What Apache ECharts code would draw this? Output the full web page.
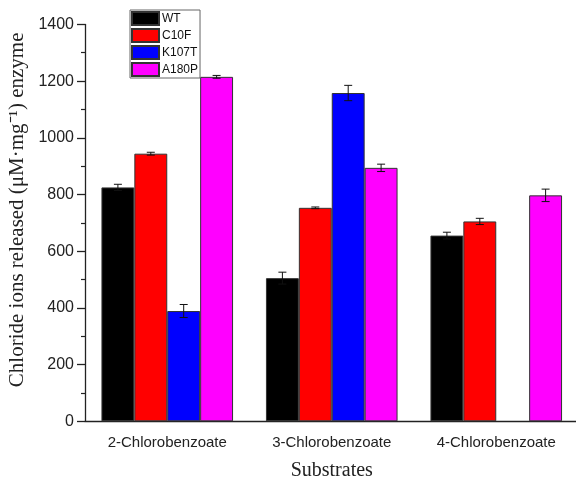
<!DOCTYPE html>
<html>
<head>
<meta charset="utf-8">
<script src="https://cdn.jsdelivr.net/npm/echarts@6/dist/echarts.min.js"></script>
<style>html,body{margin:0;padding:0;background:#fff;}#c{width:576px;height:481px;}</style>
</head>
<body>
<div id="c"></div>
<script>
var categories = ['2-Chlorobenzoate', '3-Chlorobenzoate', '4-Chlorobenzoate'];
var seriesNames = ['WT', 'C10F', 'K107T', 'A180P'];
var wt = [825, 505, 655];
var wtErr = [11, 21, 12];
var c10f = [944, 753, 705];
var c10fErr = [5, 3, 11];
var k107t = [389, 1158, null];
var k107tErr = [23, 27, null];
var a180p = [1215, 894, 797];
var a180pErr = [5, 13, 22];
var yTicks = [0, 200, 400, 600, 800, 1000, 1200, 1400];

var values = [wt, c10f, k107t, a180p];
var errors = [wtErr, c10fErr, k107tErr, a180pErr];
var colors = ['#000000', '#ff0000', '#0000ff', '#ff00ff'];
var gapRatio = 0.2;

var chart = echarts.init(document.getElementById('c'));
var series = [];
values.forEach(function (vals, si) {
  series.push({
    name: seriesNames[si],
    type: 'bar',
    data: vals,
    barGap: '0%',
    barCategoryGap: '20%',
    itemStyle: { color: colors[si], borderColor: '#333', borderWidth: 1 },
    emphasis: { disabled: true }
  });
});
values.forEach(function (vals, si) {
  var errData = [];
  vals.forEach(function (v, ci) {
    if (v != null && errors[si][ci] != null) {
      errData.push([ci, v - errors[si][ci], v + errors[si][ci]]);
    }
  });
  series.push({
    type: 'custom',
    z: 10,
    silent: true,
    data: errData,
    encode: { x: 0, y: [1, 2] },
    renderItem: function (params, api) {
      var ci = api.value(0);
      var lo = api.coord([ci, api.value(1)]);
      var hi = api.coord([ci, api.value(2)]);
      var band = api.size([1, 0])[0];
      var bw = band * (1 - gapRatio) / 4;
      var x = lo[0] + (si - 1.5) * bw;
      var cap = 4;
      var st = { stroke: '#111', lineWidth: 1, fill: null };
      return {
        type: 'group',
        children: [
          { type: 'line', shape: { x1: x, y1: lo[1], x2: x, y2: hi[1] }, style: st },
          { type: 'line', shape: { x1: x - cap, y1: lo[1], x2: x + cap, y2: lo[1] }, style: st },
          { type: 'line', shape: { x1: x - cap, y1: hi[1], x2: x + cap, y2: hi[1] }, style: st }
        ]
      };
    }
  });
});

chart.setOption({
  animation: false,
  backgroundColor: '#fff',
  grid: { left: 85, top: 24.4, width: 493.5, height: 396.9, containLabel: false, outerBoundsMode: 'none' },
  legend: {
    data: seriesNames,
    orient: 'vertical',
    left: 130,
    top: 10,
    icon: 'rect',
    itemWidth: 27,
    itemHeight: 13,
    itemGap: 2,
    padding: [1, 2, 1, 1],
    borderColor: '#666',
    borderWidth: 1,
    textStyle: { fontFamily: 'Liberation Sans, Arial', fontSize: 12, color: '#111', padding: [0, 0, 0, -2] },
    selectedMode: false
  },
  xAxis: {
    type: 'category',
    data: categories,
    name: 'Substrates',
    nameLocation: 'middle',
    nameGap: 39,
    nameTextStyle: { fontFamily: 'Liberation Serif, Times New Roman, serif', fontSize: 20, color: '#222' },
    axisLine: { lineStyle: { color: '#222', width: 1.3 } },
    axisTick: { alignWithLabel: true, length: 6, lineStyle: { color: '#222', width: 1.3 } },
    axisLabel: { fontFamily: 'Liberation Sans, Arial', fontSize: 15, color: '#222', margin: 14 },
    splitLine: { show: false }
  },
  yAxis: {
    type: 'value',
    min: yTicks[0],
    max: yTicks[yTicks.length - 1],
    interval: 200,
    name: 'Chloride ions released (\u03bcM\u00b7mg\u207b\u00b9) enzyme',
    nameLocation: 'middle',
    nameGap: 54,
    nameTextStyle: { fontFamily: 'Liberation Serif, Times New Roman, serif', fontSize: 21, color: '#222', padding: [0, 0, 0, 26] },
    axisLine: { show: true, lineStyle: { color: '#222', width: 1.3 } },
    axisTick: { show: true, length: 8, lineStyle: { color: '#222', width: 1.3 } },
    minorTick: { show: true, splitNumber: 2, length: 4, lineStyle: { color: '#222', width: 1.2 } },
    axisLabel: { fontFamily: 'Liberation Sans, Arial', fontSize: 16, color: '#222', margin: 11, formatter: function (v) { return String(v); } },
    splitLine: { show: false }
  },
  series: series
});
</script>
</body>
</html>
